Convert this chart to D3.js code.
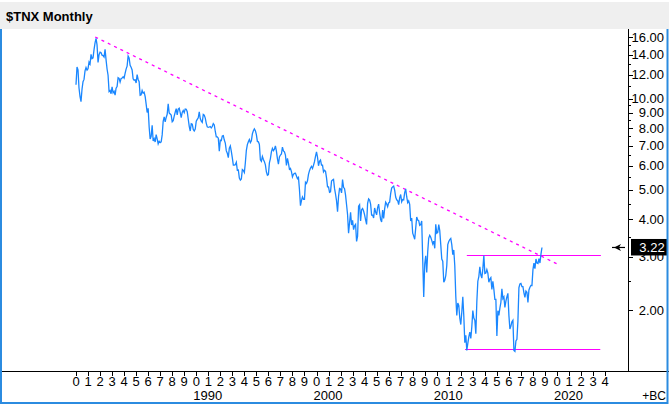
<!DOCTYPE html>
<html><head><meta charset="utf-8">
<script src="https://cdn.jsdelivr.net/npm/d3@7"></script>
<style>
html,body{margin:0;padding:0;background:#fff;overflow:hidden}
svg{display:block;font-family:"Liberation Sans",Arial,Helvetica,sans-serif}
</style>
</head><body>
<svg id="chart" width="669" height="404"></svg>
<script>
// ---------- DATA ----------
const chartTitle = "$TNX Monthly";
const firstYear = 1980;
// Month-end 10-year Treasury yield (%), one row per year
const closes1980s = [
  11.12,12.74,12.45,10.85,10.18,9.78,10.75,11.38,11.58,12.36,12.68,12.43,
  12.57,13.22,13.02,14.02,13.56,13.64,14.53,15.30,15.84,15.07,13.19,13.98,
  14.26,14.19,13.93,13.89,13.74,14.56,13.44,12.54,11.96,10.56,10.64,10.39,
  10.95,10.46,10.58,10.27,10.83,10.97,11.74,11.68,11.35,11.66,11.70,11.82,
  11.69,12.13,12.53,12.81,13.84,13.63,12.89,12.71,12.45,11.64,11.52,11.55,
  11.27,12.01,11.58,11.39,10.27,10.31,10.65,10.43,10.51,10.17,9.60,9.00,
  9.29,8.06,7.36,7.51,8.17,7.25,7.38,7.19,7.61,7.36,7.09,7.23,
  7.16,7.20,7.59,8.42,8.71,8.38,8.67,8.88,9.62,8.97,8.90,8.83,
  8.39,8.46,8.76,9.02,9.27,8.84,9.24,9.30,8.99,8.65,9.01,9.14,
  8.99,9.25,9.23,9.06,8.57,8.10,7.82,8.27,8.24,7.91,7.82,7.93
];
const closes1990s = [
  8.42,8.54,8.65,9.04,8.60,8.43,8.35,8.87,8.82,8.63,8.29,8.07,
  8.04,8.06,8.09,8.01,8.09,8.27,8.19,7.79,7.48,7.48,7.40,6.70,
  7.29,7.27,7.53,7.55,7.30,7.13,6.72,6.60,6.38,6.86,6.98,6.69,
  6.37,6.03,6.03,6.05,6.16,5.80,5.81,5.46,5.38,5.43,5.83,5.79,
  5.70,6.14,6.75,7.05,7.20,7.33,7.16,7.26,7.65,7.83,7.95,7.84,
  7.61,7.22,7.20,7.06,6.28,6.21,6.44,6.29,6.19,6.04,5.73,5.58,
  5.61,6.13,6.34,6.67,6.85,6.73,6.81,6.98,6.71,6.34,6.07,6.42,
  6.51,6.56,6.92,6.72,6.67,6.51,6.02,6.35,6.12,5.84,5.88,5.74,
  5.51,5.62,5.66,5.67,5.55,5.44,5.49,5.00,4.43,4.60,4.73,4.65,
  4.65,5.29,5.24,5.35,5.62,5.78,5.90,5.97,5.88,6.02,6.19,6.44
];
const closes2000s = [
  6.67,6.41,6.00,6.21,6.27,6.03,6.03,5.73,5.80,5.75,5.47,5.11,
  5.11,4.90,4.92,5.34,5.38,5.41,5.05,4.83,4.59,4.23,4.75,5.05,
  5.03,4.88,5.40,5.09,5.04,4.80,4.46,4.14,3.59,3.89,4.21,3.82,
  3.96,3.69,3.80,3.84,3.37,3.51,4.41,4.46,3.94,4.29,4.33,4.25,
  4.13,3.97,3.84,4.51,4.66,4.62,4.48,4.12,4.12,4.03,4.35,4.22,
  4.13,4.36,4.48,4.20,3.98,3.91,4.28,4.02,4.32,4.55,4.49,4.39,
  4.52,4.55,4.85,5.06,5.11,5.14,4.98,4.73,4.63,4.60,4.46,4.70,
  4.82,4.56,4.64,4.63,4.89,5.03,4.74,4.53,4.59,4.47,3.94,4.03,
  3.59,3.51,3.43,3.73,4.06,3.97,3.95,3.81,3.83,3.94,2.93,2.21,
  2.84,3.02,2.66,3.12,3.46,3.53,3.48,3.40,3.31,3.38,3.20,3.84
];
const closes2010s = [
  3.59,3.61,3.83,3.66,3.29,2.95,2.90,2.47,2.51,2.60,2.80,3.29,
  3.37,3.42,3.45,3.29,3.05,3.16,2.80,2.22,1.92,2.11,2.07,1.88,
  1.79,1.97,2.21,1.91,1.56,1.65,1.47,1.55,1.63,1.69,1.61,1.76,
  1.99,1.88,1.85,1.67,2.13,2.49,2.58,2.78,2.61,2.55,2.74,3.03,
  2.64,2.65,2.72,2.65,2.47,2.53,2.56,2.34,2.49,2.34,2.17,2.17,
  1.64,1.99,1.92,2.03,2.12,2.35,2.18,2.21,2.04,2.14,2.21,2.27,
  1.92,1.73,1.77,1.83,1.85,1.47,1.46,1.58,1.60,1.84,2.37,2.44,
  2.45,2.39,2.39,2.28,2.20,2.31,2.29,2.12,2.33,2.38,2.41,2.41,
  2.72,2.86,2.74,2.95,2.86,2.85,2.96,2.86,3.06,3.22
];
const lastValue = 3.22;
const yMajorTicks = [2,3,4,5,6,7,8,9,10,12,14,16];
const yMinorTicks = [2.5,3.5,4.5,5.5,6.5,7.5,8.5,9.5,11,13,15];
const xYearTicks = d3.range(1980, 2025);
const decadeLabels = [1990, 2000, 2010, 2020];
const trendLine = [[1981.6, 16.0], [2020.17, 2.82]];
const resistanceLine = [[2012.5, 3.04], [2023.65, 3.04]];
const supportLine = [[2012.35, 1.485], [2023.6, 1.485]];

// ---------- BUILD ----------
const allCloses = [...closes1980s, ...closes1990s, ...closes2000s, ...closes2010s];
const series = allCloses.map((v, i) => ({t: firstYear + i / 12, v}));

const W = 669, H = 404;
const svg = d3.select("#chart");
const axisX = 628, axisY = 371, topY = 29;

const x = d3.scaleLinear().domain([1980, 2020]).range([76, 557]);
const y = d3.scaleLog().domain([2, 16]).range([310, 37]);

const blue = "#1a87ff", magenta = "#ff00ff", border = "#2b8be0";

// title bar
svg.append("rect").attr("x", 0).attr("y", 2).attr("width", W).attr("height", topY - 2).attr("fill", "#efefef");
svg.append("text").attr("x", 6).attr("y", 20.5).attr("font-size", 13).attr("font-weight", "bold")
  .attr("fill", "#000").text(chartTitle);

// plot clip
svg.append("defs").append("clipPath").attr("id", "plot")
  .append("rect").attr("x", 0).attr("y", topY).attr("width", axisX).attr("height", axisY - topY);

const g = svg.append("g").attr("clip-path", "url(#plot)");

// trendline
const lineGen = d3.line().x(d => x(d[0])).y(d => y(d[1]));
g.append("path").attr("d", lineGen(trendLine)).attr("fill", "none")
  .attr("stroke", magenta).attr("stroke-width", 1.3).attr("stroke-dasharray", "3,4");
// horizontal levels (pixel-aligned)
const levelGen = d3.line().x(d => x(d[0])).y(d => Math.round(y(d[1])) + 0.5);
[resistanceLine, supportLine].forEach(l => {
  g.append("path").attr("d", levelGen(l)).attr("fill", "none")
    .attr("stroke", magenta).attr("stroke-width", 1.2);
});

// price line
g.append("path").datum(series)
  .attr("d", d3.line().x(d => x(d.t)).y(d => y(d.v)))
  .attr("fill", "none").attr("stroke", blue).attr("stroke-width", 1.3)
  .attr("stroke-linejoin", "miter");

// right axis
svg.append("line").attr("x1", axisX + 0.5).attr("x2", axisX + 0.5).attr("y1", topY).attr("y2", axisY)
  .attr("stroke", "#000").attr("stroke-width", 1);
yMajorTicks.forEach(v => {
  const yy = Math.round(y(v)) + 0.5;
  svg.append("line").attr("x1", axisX).attr("x2", axisX + 5).attr("y1", yy).attr("y2", yy).attr("stroke", "#000");
  svg.append("text").attr("x", 664).attr("y", y(v) + 4.5).attr("text-anchor", "end")
    .attr("font-size", 13).attr("fill", "#000").text(v.toFixed(2));
});
yMinorTicks.forEach(v => {
  const yy = Math.round(y(v)) + 0.5;
  svg.append("line").attr("x1", axisX).attr("x2", axisX + 3).attr("y1", yy).attr("y2", yy).attr("stroke", "#000");
});

// last value label
const ly = y(lastValue);
svg.append("rect").attr("x", 631).attr("y", ly - 8.5).attr("width", 36).attr("height", 16.5).attr("fill", "#000");
svg.append("text").attr("x", 652).attr("y", ly + 5).attr("text-anchor", "middle")
  .attr("font-size", 13).attr("fill", "#fff").text(lastValue.toFixed(2));
svg.append("line").attr("x1", 612).attr("x2", 625).attr("y1", ly).attr("y2", ly).attr("stroke", "#000").attr("stroke-width", 1.2);
svg.append("path").attr("d", `M${614},${ly} L${621},${ly - 3.5} L${619},${ly} L${621},${ly + 3.5} Z`).attr("fill", "#000");

// bottom axis
svg.append("line").attr("x1", 0).attr("x2", W).attr("y1", axisY + 0.5).attr("y2", axisY + 0.5).attr("stroke", "#000");
xYearTicks.forEach(yr => {
  const xx = Math.round(x(yr)) + 0.5;
  svg.append("line").attr("x1", xx).attr("x2", xx).attr("y1", axisY).attr("y2", axisY + 5).attr("stroke", "#000");
  svg.append("text").attr("x", x(yr)).attr("y", 386).attr("text-anchor", "middle")
    .attr("font-size", 13).attr("fill", "#000").text(String(yr % 10));
});
decadeLabels.forEach(yr => {
  svg.append("text").attr("x", x(yr) - 3).attr("y", 399.5).attr("font-size", 13).attr("fill", "#000").text(String(yr));
});
svg.append("text").attr("x", 666).attr("y", 400).attr("text-anchor", "end")
  .attr("font-size", 12).attr("fill", "#000").text("+BC");

// outer border (left, bottom, right)
svg.append("path").attr("d", `M1,${topY} V${H - 1} H${W - 1.5} V${topY}`)
  .attr("fill", "none").attr("stroke", border).attr("stroke-width", 2);
</script>
</body></html>
